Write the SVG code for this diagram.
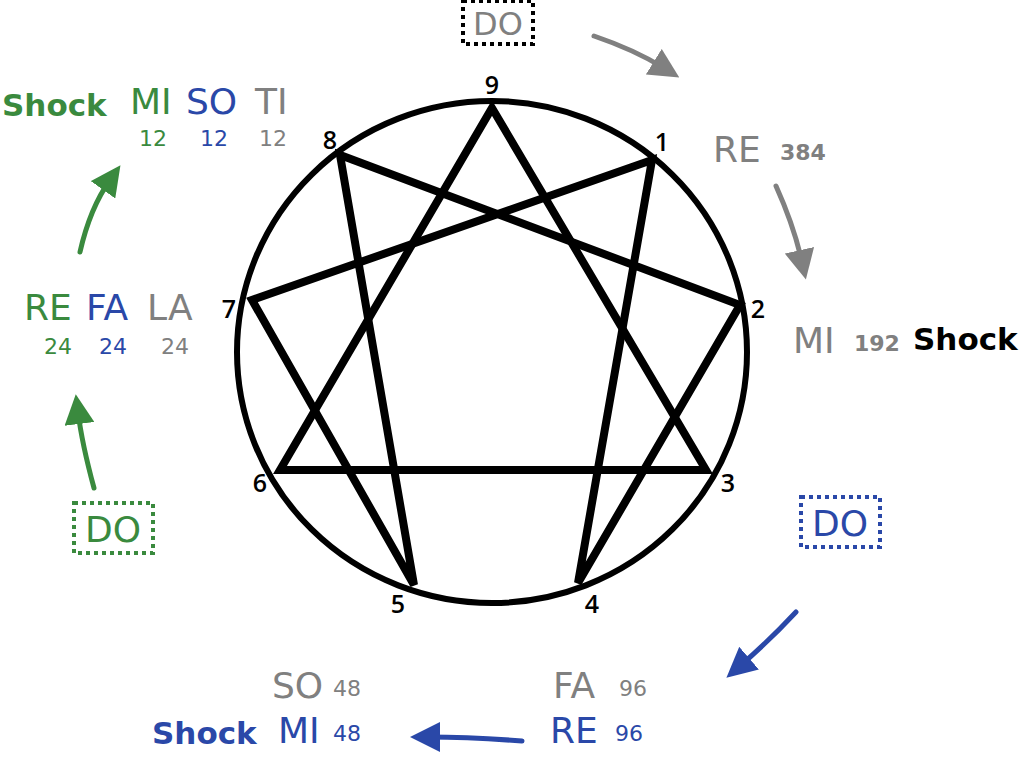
<svg xmlns="http://www.w3.org/2000/svg" width="1024" height="758" viewBox="0 0 1024 758">
<style>
.t{font-family:"DejaVu Sans","Liberation Sans",sans-serif;}
.big{font-size:36px;}
.sm{font-size:22px;}
.num{font-family:"Open Sans","Liberation Sans",sans-serif;font-size:25px;font-weight:600;fill:#000;text-anchor:middle;}
.g{fill:#3a8a3e}.b{fill:#2a48a8}.k{fill:#808080}
.shock{font-weight:700;font-size:31px;}
</style>
<defs>
<marker id="ag" viewBox="0 0 10 10" refX="4" refY="5" markerWidth="6" markerHeight="6" orient="auto"><path d="M0,0L10,5L0,10z" fill="#3a8a3e"/></marker>
<marker id="ab" viewBox="0 0 10 10" refX="4" refY="5" markerWidth="6" markerHeight="6" orient="auto"><path d="M0,0L10,5L0,10z" fill="#2a48a8"/></marker>
<marker id="ak" viewBox="0 0 10 10" refX="4" refY="5" markerWidth="6" markerHeight="6" orient="auto"><path d="M0,0L10,5L0,10z" fill="#808080"/></marker>
</defs>
<g id="enneagram" fill="none" stroke="#000" stroke-linejoin="miter">
<ellipse cx="492" cy="352" rx="255" ry="251" stroke-width="6"/>
<polygon points="492,108 706,470 280,470" stroke-width="8"/>
<polygon points="652,160 578,583 740,305 340,155 414,585 252,300" stroke-width="8"/>
</g>
<g id="numbers">
<text class="num" x="492" y="94">9</text>
<text class="num" x="662" y="151">1</text>
<text class="num" x="758" y="318">2</text>
<text class="num" x="728" y="492">3</text>
<text class="num" x="592" y="613">4</text>
<text class="num" x="398" y="613">5</text>
<text class="num" x="260" y="492">6</text>
<text class="num" x="229" y="318">7</text>
<text class="num" x="330" y="149">8</text>
</g>
<g id="connectors" fill="none" stroke-width="5" stroke-linecap="round">
<path d="M594,36 Q635,50 664,68" stroke="#808080" marker-end="url(#ak)"/>
<path d="M776,186 Q794,226 802,262" stroke="#808080" marker-end="url(#ak)"/>
<path d="M796,612 Q770,640 740,666" stroke="#2a48a8" marker-end="url(#ab)"/>
<path d="M522,741 Q470,737 428,737" stroke="#2a48a8" marker-end="url(#ab)"/>
<path d="M94,488 Q82,444 78,412" stroke="#3a8a3e" marker-end="url(#ag)"/>
<path d="M80,252 Q90,208 110,180" stroke="#3a8a3e" marker-end="url(#ag)"/>
</g>
<g id="do-top">
<rect x="463" y="1" width="70" height="43" fill="none" stroke="#000" stroke-width="4" stroke-dasharray="4,4"/>
<text class="t k" x="498" y="35" text-anchor="middle" font-size="32">DO</text>
</g>
<g id="do-right">
<rect x="801" y="497" width="79" height="50" fill="none" stroke="#2a48a8" stroke-width="4" stroke-dasharray="4,4"/>
<text class="t big b" x="840" y="536" text-anchor="middle">DO</text>
</g>
<g id="do-left">
<rect x="74" y="503" width="79" height="50" fill="none" stroke="#3a8a3e" stroke-width="4" stroke-dasharray="4,4"/>
<text class="t big g" x="113" y="542" text-anchor="middle">DO</text>
</g>
<g id="re-384">
<text class="t big k" x="713" y="162">RE</text>
<text class="t sm k" x="780" y="160" font-weight="700">384</text>
</g>
<g id="mi-192">
<text class="t big k" x="793" y="353">MI</text>
<text class="t sm k" x="854" y="351" font-weight="700">192</text>
<text class="t shock" x="913" y="350" fill="#000">Shock</text>
</g>
<g id="fa-re-96">
<text class="t big k" x="553" y="698">FA</text>
<text class="t sm k" x="619" y="696">96</text>
<text class="t big b" x="550" y="743">RE</text>
<text class="t sm b" x="615" y="741">96</text>
</g>
<g id="so-mi-48">
<text class="t big k" x="272" y="698">SO</text>
<text class="t sm k" x="333" y="696">48</text>
<text class="t shock b" x="152" y="744">Shock</text>
<text class="t big b" x="278" y="743">MI</text>
<text class="t sm b" x="333" y="741">48</text>
</g>
<g id="re-fa-la-24">
<text class="t big g" x="24" y="320">RE</text>
<text class="t big b" x="86" y="320">FA</text>
<text class="t big k" x="147" y="320">LA</text>
<text class="t sm g" x="58" y="354" text-anchor="middle">24</text>
<text class="t sm b" x="113" y="354" text-anchor="middle">24</text>
<text class="t sm k" x="175" y="354" text-anchor="middle">24</text>
</g>
<g id="mi-so-ti-12">
<text class="t shock g" x="2" y="116">Shock</text>
<text class="t big g" x="130" y="114">MI</text>
<text class="t big b" x="186" y="114">SO</text>
<text class="t big k" x="255" y="114">TI</text>
<text class="t sm g" x="153" y="146" text-anchor="middle">12</text>
<text class="t sm b" x="214" y="146" text-anchor="middle">12</text>
<text class="t sm k" x="273" y="146" text-anchor="middle">12</text>
</g>
</svg>
